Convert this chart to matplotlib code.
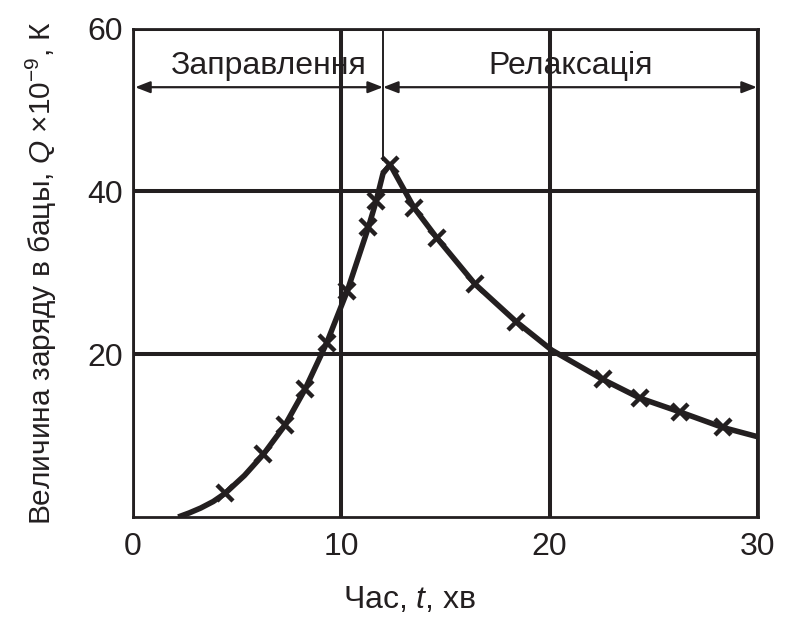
import numpy as np
import matplotlib
matplotlib.use('Agg')
import matplotlib.pyplot as plt

plt.rcParams['font.family'] = ['Liberation Sans', 'DejaVu Sans']
plt.rcParams['mathtext.fontset'] = 'custom'
plt.rcParams['mathtext.rm'] = 'Liberation Sans'
plt.rcParams['mathtext.it'] = 'Liberation Sans:italic'

INK = '#231f20'

# виміряні точки (час, хв; заряд, x10^-9 К)
t_meas = [4.42, 6.26, 7.30, 8.26, 9.30, 10.29, 11.30, 11.67, 12.34,
          13.49, 14.58, 16.42, 18.39, 22.55, 24.34, 26.26, 28.31]
q_meas = [2.9, 7.7, 11.3, 15.7, 21.4, 27.8, 35.6, 38.8, 43.3,
          38.0, 34.3, 28.6, 24.0, 16.9, 14.6, 12.9, 11.0]

# апроксимуюча крива
t_fit = [2.17, 2.7, 3.25, 3.85, 4.42, 5.35, 6.26, 7.30, 8.26, 9.30, 10.29, 11.30,
         11.67, 12.0, 12.34, 13.49, 14.58, 16.42, 18.39, 20.1, 22.55, 24.34,
         26.26, 28.31, 30.0]
q_fit = [0.0, 0.5, 1.1, 1.9, 2.9, 5.1, 7.7, 11.3, 15.7, 21.4, 27.8, 35.6,
         38.8, 42.2, 43.3, 38.0, 34.3, 28.6, 24.0, 20.5, 16.9, 14.6,
         12.9, 11.0, 9.85]

t_switch = 12.0   # момент переходу заправлення -> релаксація
x_ticks = [0, 10, 20, 30]
y_ticks = [20, 40, 60]

fig = plt.figure(figsize=(7.88, 6.19), dpi=100)
ax = fig.add_axes([0.1688, 0.1648, 0.7931, 0.789])

ax.set_xlim(0, 30)
ax.set_ylim(0, 60)
ax.set_xticks(x_ticks)
ax.set_yticks(y_ticks)
ax.tick_params(length=0, labelsize=23, colors=INK)
ax.tick_params(axis='x', pad=11)
ax.tick_params(axis='y', pad=7)
ax.grid(True, color=INK, linewidth=2.9)
ax.set_axisbelow(True)
for s in ax.spines.values():
    s.set_linewidth(2.0)
    s.set_color(INK)

ax.plot(t_fit, q_fit, '-', color=INK, linewidth=4.0, solid_joinstyle='round',
        solid_capstyle='butt', zorder=3)
ax.plot(t_meas, q_meas, 'x', color=INK, markersize=11, markeredgewidth=3.2, zorder=4)

# межа між етапами
ax.plot([t_switch, t_switch], [43.8, 60], color=INK, linewidth=1.4, zorder=3)

arrow = dict(arrowstyle='<|-|>,head_length=0.9,head_width=0.35', color=INK, lw=1.6,
             shrinkA=0, shrinkB=0)
ax.annotate('', xy=(0.1, 52.8), xytext=(t_switch, 52.8), arrowprops=arrow)
ax.annotate('', xy=(t_switch, 52.8), xytext=(29.95, 52.8), arrowprops=arrow)
ax.text(6.5, 54.4, 'Заправлення', ha='center', va='baseline', fontsize=23, color=INK)
ax.text(21.0, 54.4, 'Релаксація', ha='center', va='baseline', fontsize=23, color=INK)

ax.set_xlabel('Час, $t$, хв', fontsize=23, color=INK)
ax.xaxis.set_label_coords(0.442, -0.14)
ax.set_ylabel('Величина заряду в бацы, $Q$ ×10$^{-9}$, К', fontsize=21.5, color=INK,
              va='center')
ax.yaxis.set_label_coords(-0.147, 0.5)

fig.savefig('out.png', dpi=100)
